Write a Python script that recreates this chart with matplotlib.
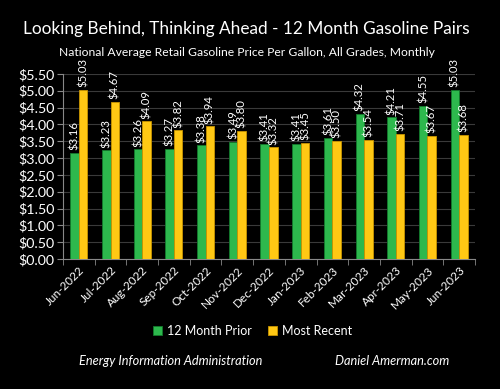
import matplotlib.pyplot as plt
import numpy as np

months = ["Jun-2022", "Jul-2022", "Aug-2022", "Sep-2022", "Oct-2022", "Nov-2022",
          "Dec-2022", "Jan-2023", "Feb-2023", "Mar-2023", "Apr-2023", "May-2023", "Jun-2023"]
prior = [3.16, 3.23, 3.26, 3.27, 3.38, 3.49, 3.41, 3.41, 3.61, 4.32, 4.21, 4.55, 5.03]
recent = [5.03, 4.67, 4.09, 3.82, 3.94, 3.80, 3.32, 3.45, 3.50, 3.54, 3.71, 3.67, 3.68]

plt.rcParams['font.family'] = ['Lato', 'DejaVu Sans']

fig = plt.figure(figsize=(5, 3.89), dpi=100, facecolor='black')
ax = fig.add_axes([0.126, 0.334, 0.824, 0.476])
ax.set_facecolor('black')

x = np.arange(len(months))
w = 0.27
b1 = ax.bar(x - w / 2, prior, w, color='#2db84d', edgecolor='#137a2c', linewidth=0.6,
            label='12 Month Prior', zorder=3)
b2 = ax.bar(x + w / 2, recent, w, color='#ffc814', edgecolor='#c99500', linewidth=0.6,
            label='Most Recent', zorder=3)

# value labels, rotated, above each bar
for bars, vals in [(b1, prior), (b2, recent)]:
    for r, v in zip(bars, vals):
        ax.annotate(f"${v:.2f}", (r.get_x() + r.get_width() / 2, v), xytext=(0, 2),
                    textcoords='offset points', rotation=90, ha='center', va='bottom',
                    color='white', fontsize=8.2)

ax.set_ylim(0, 5.5)
ax.set_xlim(-0.5, len(months) - 0.5)
yt = np.arange(0, 5.51, 0.5)
ax.set_yticks(yt)
ax.set_yticklabels([f"${v:.2f}" for v in yt], color='white', fontsize=10.3)
ax.yaxis.grid(True, color='#3a3a3a', linewidth=0.8, zorder=0)

ax.set_xticks(x)
ax.set_xticklabels(months, rotation=45, ha='right', rotation_mode='anchor',
                   color='white', fontsize=8.5)
ax.set_xticks(np.arange(-0.5, len(months)), minor=True)
ax.tick_params(axis='x', which='major', length=0, pad=4)
ax.tick_params(axis='x', which='minor', length=4, color='#888888')
ax.tick_params(axis='y', length=4, color='#888888', pad=2)

for s in ['top', 'right']:
    ax.spines[s].set_visible(False)
ax.spines['left'].set_color('#888888')
ax.spines['bottom'].set_color('#888888')

fig.text(0.493, 0.925, "Looking Behind, Thinking Ahead - 12 Month Gasoline Pairs",
         ha='center', va='center', color='white', fontsize=12.4)
fig.text(0.493, 0.866, "National Average Retail Gasoline Price Per Gallon, All Grades, Monthly",
         ha='center', va='center', color='white', fontsize=8.7)

leg = fig.legend(loc='center', bbox_to_anchor=(0.505, 0.149), ncol=2, frameon=False,
                 fontsize=9, handlelength=0.7, handleheight=0.7, columnspacing=1.3,
                 handletextpad=0.4)
for t in leg.get_texts():
    t.set_color('white')

fig.text(0.341, 0.072, "Energy Information Administration", ha='center', va='center',
         color='white', fontsize=9.2, style='italic')
fig.text(0.785, 0.072, "Daniel Amerman.com", ha='center', va='center',
         color='white', fontsize=9.2, style='italic')

fig.savefig('out.png', dpi=100, facecolor='black')
